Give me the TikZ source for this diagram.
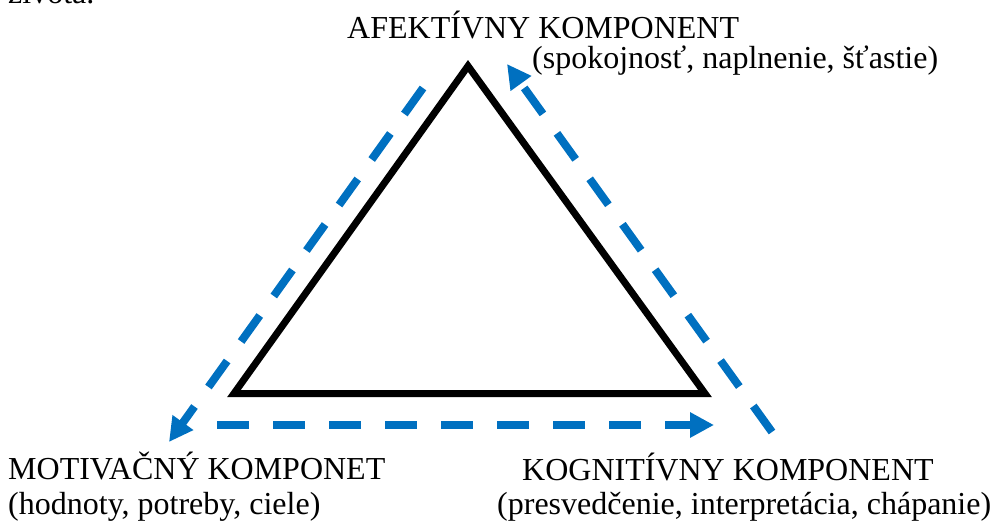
\documentclass[tikz,border=0pt]{standalone}
\usepackage{fontspec}
\setmainfont{Liberation Serif}
\usepackage{tikz}
\usetikzlibrary{arrows.meta}
\definecolor{flowblue}{HTML}{0070C0}

\begin{document}
\begin{tikzpicture}[
  x=1pt,y=-1pt,
  comp text/.style={inner sep=0pt,anchor=base west,font=\fontsize{32}{38}\selectfont},
  triangle edge/.style={draw,line width=7pt,line join=miter},
  flow arrow/.style={draw=flowblue,line width=8pt,dash pattern=on 32pt off 24pt,
    -{Triangle[length=24pt,width=24pt]}},
]
\useasboundingbox (0,0) rectangle (998,520);
\node[comp text] (prev) at (8,3) {života.};
\node[comp text] (afekt) at (347,38) {AFEKTÍVNY KOMPONENT};
\node[comp text] (afektsub) at (532,68) {(spokojnosť, naplnenie, šťastie)};
\node[comp text] (motiv) at (8,479) {MOTIVAČNÝ KOMPONET};
\node[comp text] (motivsub) at (8,514) {(hodnoty, potreby, ciele)};
\node[comp text] (kogn) at (522,480) {KOGNITÍVNY KOMPONENT};
\node[comp text] (kognsub) at (497,514) {(presvedčenie, interpretácia, chápanie)};
% triangle
\coordinate (apex) at (468,66);
\coordinate (left) at (234,393.5);
\coordinate (right) at (705,393.5);
\draw[triangle edge] (apex) -- (right) -- (left) -- cycle;
% dashed arrows round it
\coordinate (afektstart) at (423,88);
\coordinate (motivtip) at (169,442);
\coordinate (motivstart) at (217,425);
\coordinate (kogntip) at (714,425);
\coordinate (kognstart) at (772,432);
\coordinate (afekttip) at (507,64);
\draw[flow arrow] (afektstart) -- (motivtip);
\draw[flow arrow] (motivstart) -- (kogntip);
\draw[flow arrow] (kognstart) -- (afekttip);
\end{tikzpicture}
\end{document}
